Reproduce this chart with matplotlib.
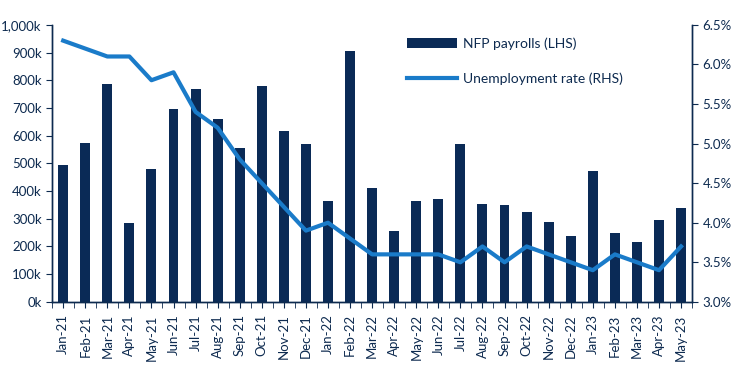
import numpy as np
import matplotlib
matplotlib.use("Agg")
import matplotlib.pyplot as plt
from matplotlib.ticker import FuncFormatter, MultipleLocator

plt.rcParams['font.family'] = ['Lato', 'DejaVu Sans']

months = ["Jan-21", "Feb-21", "Mar-21", "Apr-21", "May-21", "Jun-21", "Jul-21", "Aug-21",
          "Sep-21", "Oct-21", "Nov-21", "Dec-21", "Jan-22", "Feb-22", "Mar-22", "Apr-22",
          "May-22", "Jun-22", "Jul-22", "Aug-22", "Sep-22", "Oct-22", "Nov-22", "Dec-22",
          "Jan-23", "Feb-23", "Mar-23", "Apr-23", "May-23"]
nfp = [495, 575, 785, 285, 480, 695, 770, 660, 555, 780, 615, 570, 365, 905, 412,
       256, 365, 370, 568, 352, 348, 325, 290, 239, 473, 247, 216, 294, 337]
unemp = [6.3, 6.2, 6.1, 6.1, 5.8, 5.9, 5.4, 5.2, 4.8, 4.5, 4.2, 3.9, 4.0, 3.8, 3.6,
         3.6, 3.6, 3.6, 3.5, 3.7, 3.5, 3.7, 3.6, 3.5, 3.4, 3.6, 3.5, 3.4, 3.7]

navy = "#0a2a56"
blue = "#1a7bc9"
txt = "#0d2a4f"

fig = plt.figure(figsize=(7.45, 3.65), dpi=100)
ax = fig.add_axes([0.07, 0.173, 0.859, 0.759])
ax2 = ax.twinx()

x = np.arange(len(months))
ax.bar(x, nfp, width=0.45, color=navy, label="NFP payrolls (LHS)", zorder=2)
ax2.plot(x, unemp, color=blue, lw=3, label="Unemployment rate (RHS)", zorder=3)

ax.set_xlim(-0.5, len(months) - 0.5)
ax.set_ylim(0, 1000)
ax2.set_ylim(3.0, 6.5)
ax.yaxis.set_major_locator(MultipleLocator(100))
ax2.yaxis.set_major_locator(MultipleLocator(0.5))
ax.yaxis.set_major_formatter(FuncFormatter(lambda v, p: "{:,.0f}k".format(v)))
ax2.yaxis.set_major_formatter(FuncFormatter(lambda v, p: "{:.1f}%".format(v)))

ax.set_xticks(x)
ax.set_xticklabels(months, rotation=90)
ax.set_xticks(np.arange(-0.5, len(months), 1), minor=True)
ax.tick_params(axis='x', which='major', length=0, pad=5)
ax.tick_params(axis='x', which='minor', length=4, color=txt)

for a in (ax, ax2):
    a.spines['top'].set_visible(False)
    for s in a.spines.values():
        s.set_color(txt)
        s.set_linewidth(1)
    a.tick_params(colors=txt, labelsize=9.5, length=4)

ax2.set_zorder(ax.get_zorder() + 1)
ax2.patch.set_visible(False)

h1, l1 = ax.get_legend_handles_labels()
h2, l2 = ax2.get_legend_handles_labels()
leg = ax2.legend(h1 + h2, l1 + l2, loc='upper left', bbox_to_anchor=(0.535, 1.0),
                 frameon=False, fontsize=10, labelspacing=1.6, handlelength=3.6,
                 handletextpad=0.4)
for t in leg.get_texts():
    t.set_color(txt)

fig.savefig("out.png", dpi=100)
